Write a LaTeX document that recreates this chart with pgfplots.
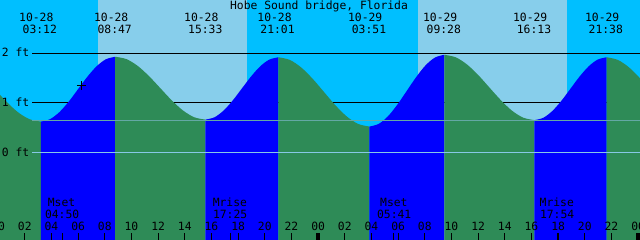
\documentclass[border=0pt]{standalone}
\usepackage{pgfplots}
\pgfplotsset{compat=1.18}
\usepackage{fontspec}
\setmainfont{DejaVu Sans Mono}
\setmonofont{DejaVu Sans Mono}
\definecolor{night}{RGB}{0,191,255}
\definecolor{day}{RGB}{135,206,235}
\definecolor{flood}{RGB}{0,0,255}
\definecolor{ebb}{RGB}{46,139,87}
\definecolor{datum}{RGB}{135,200,230}
\definecolor{markline}{RGB}{100,168,165}
\tikzset{lbl/.style={font=\fontsize{11.4}{12}\selectfont, inner sep=0pt, text=black}}
\begin{document}
\begin{tikzpicture}
\begin{axis}[
  at={(0,0)}, anchor=south west,
  width=640bp, height=240bp, scale only axis,
  xmin=0.14, xmax=48.14, ymin=-1.7717, ymax=3.0768,
  axis background/.style={fill=night},
  axis line style={draw=none},
  xtick={2,4,6,8,10,12,14,16,18,20,22,26,28,30,32,34,36,38,40,42,44,46,4.833,17.417,29.683,41.95},
  xticklabels={},
  extra x ticks={0,24,48},
  extra x tick labels={},
  extra x tick style={major tick style={black,line width=3.5bp}},
  ytick=\empty,
  xtick pos=left,
  tick align=inside,
  major tick length=7.3bp,
  major tick style={black,line width=1bp},
  axis on top,
]
% day bands
\addplot[fill=day, draw=none] coordinates {(7.49,-2) (7.49,4) (18.64,4) (18.64,-2)} -- cycle;
\addplot[fill=day, draw=none] coordinates {(31.49,-2) (31.49,4) (42.64,4) (42.64,-2)} -- cycle;
% depth lines (under water)
\addplot[black, line width=1bp] coordinates {(2.54,2) (49,2)};
\addplot[black, line width=1bp] coordinates {(2.54,1) (49,1)};
% tide curve: ebb (falling) segments in green, flood (rising) in blue
\addplot[fill=ebb, draw=none, smooth] coordinates {
(-1.05,1.505) (-0.20,1.260) (0.65,1.015) (1.50,0.807) (2.35,0.669) (3.20,0.620)}
 -- (axis cs:3.20,-2) -- (axis cs:-1.05,-2) -- cycle;
\addplot[fill=flood, draw=none, smooth] coordinates {
(3.20,0.620) (3.898,0.670) (4.596,0.812) (5.294,1.024) (5.992,1.275) (6.690,1.526) (7.387,1.738) (8.085,1.880) (8.783,1.930)}
 -- (axis cs:8.783,-2) -- (axis cs:3.20,-2) -- cycle;
\addplot[fill=ebb, draw=none, smooth] coordinates {
(8.783,1.930) (9.629,1.882) (10.475,1.744) (11.320,1.538) (12.166,1.295) (13.012,1.052) (13.858,0.846) (14.704,0.708) (15.550,0.660)}
 -- (axis cs:15.550,-2) -- (axis cs:8.783,-2) -- cycle;
\addplot[fill=flood, draw=none, smooth] coordinates {
(15.550,0.660) (16.233,0.708) (16.917,0.845) (17.600,1.049) (18.283,1.290) (18.967,1.531) (19.650,1.736) (20.333,1.872) (21.017,1.920)}
 -- (axis cs:21.017,-2) -- (axis cs:15.550,-2) -- cycle;
\addplot[fill=ebb, draw=none, smooth] coordinates {
(21.017,1.920) (21.871,1.867) (22.725,1.715) (23.579,1.488) (24.433,1.220) (25.288,0.952) (26.142,0.725) (26.996,0.573) (27.850,0.520)}
 -- (axis cs:27.850,-2) -- (axis cs:21.017,-2) -- cycle;
\addplot[fill=flood, draw=none, smooth] coordinates {
(27.850,0.520) (28.552,0.575) (29.254,0.732) (29.956,0.968) (30.658,1.245) (31.361,1.522) (32.063,1.758) (32.765,1.915) (33.467,1.970)}
 -- (axis cs:33.467,-2) -- (axis cs:27.850,-2) -- cycle;
\addplot[fill=ebb, draw=none, smooth] coordinates {
(33.467,1.970) (34.311,1.920) (35.154,1.777) (35.998,1.563) (36.842,1.310) (37.686,1.058) (38.529,0.843) (39.373,0.700) (40.217,0.650)}
 -- (axis cs:40.217,-2) -- (axis cs:33.467,-2) -- cycle;
\addplot[fill=flood, draw=none, smooth] coordinates {
(40.217,0.650) (40.894,0.698) (41.571,0.836) (42.248,1.042) (42.925,1.285) (43.602,1.528) (44.279,1.734) (44.956,1.872) (45.633,1.920)}
 -- (axis cs:45.633,-2) -- (axis cs:40.217,-2) -- cycle;
\addplot[fill=ebb, draw=none, smooth] coordinates {
(45.633,1.920) (46.466,1.868) (47.300,1.719) (48.133,1.497) (48.966,1.235)}
 -- (axis cs:48.966,-2) -- (axis cs:45.633,-2) -- cycle;
% datum and mark lines
\addplot[datum, line width=1bp] coordinates {(2.54,0) (49,0)};
\addplot[markline, line width=1bp] coordinates {(2.54,0.648) (49,0.648)};
% current time mark
\addplot[black, only marks, mark=+, mark size=4.5bp, mark options={solid, draw=black, line width=1.4bp}] coordinates {(6.24,1.345)};
% title
\node[lbl, anchor=base] at (axis cs:24.065,2.875) {Hobe Sound bridge, Florida};
% y labels
\node[lbl, anchor=base west] at (axis cs:0.2675,1.93) {2 ft};
\node[lbl, anchor=base west] at (axis cs:0.2675,0.921) {1 ft};
\node[lbl, anchor=base west] at (axis cs:0.2675,-0.075) {0 ft};
% tide event labels
\node[lbl, anchor=base] at (axis cs:2.862,2.638) {10-28};
\node[lbl, anchor=base] at (axis cs:3.125,2.390) {03:12};
\node[lbl, anchor=base] at (axis cs:8.480,2.638) {10-28};
\node[lbl, anchor=base] at (axis cs:8.743,2.390) {08:47};
\node[lbl, anchor=base] at (axis cs:15.238,2.638) {10-28};
\node[lbl, anchor=base] at (axis cs:15.538,2.390) {15:33};
\node[lbl, anchor=base] at (axis cs:20.728,2.638) {10-28};
\node[lbl, anchor=base] at (axis cs:20.953,2.390) {21:01};
\node[lbl, anchor=base] at (axis cs:27.530,2.638) {10-29};
\node[lbl, anchor=base] at (axis cs:27.815,2.390) {03:51};
\node[lbl, anchor=base] at (axis cs:33.155,2.638) {10-29};
\node[lbl, anchor=base] at (axis cs:33.425,2.390) {09:28};
\node[lbl, anchor=base] at (axis cs:39.905,2.638) {10-29};
\node[lbl, anchor=base] at (axis cs:40.190,2.390) {16:13};
\node[lbl, anchor=base] at (axis cs:45.305,2.638) {10-29};
\node[lbl, anchor=base] at (axis cs:45.575,2.390) {21:38};
% moon labels
\node[lbl, anchor=base] at (axis cs:4.753,-1.085) {Mset};
\node[lbl, anchor=base] at (axis cs:4.801,-1.341) {04:50};
\node[lbl, anchor=base] at (axis cs:17.379,-1.085) {Mrise};
\node[lbl, anchor=base] at (axis cs:17.401,-1.341) {17:25};
\node[lbl, anchor=base] at (axis cs:29.680,-1.085) {Mset};
\node[lbl, anchor=base] at (axis cs:29.705,-1.341) {05:41};
\node[lbl, anchor=base] at (axis cs:41.900,-1.085) {Mrise};
\node[lbl, anchor=base] at (axis cs:41.926,-1.341) {17:54};
% hour labels
\node[lbl, anchor=base] at (axis cs:0,-1.570) {00};
\node[lbl, anchor=base] at (axis cs:2,-1.570) {02};
\node[lbl, anchor=base] at (axis cs:4,-1.570) {04};
\node[lbl, anchor=base] at (axis cs:6,-1.570) {06};
\node[lbl, anchor=base] at (axis cs:8,-1.570) {08};
\node[lbl, anchor=base] at (axis cs:10,-1.570) {10};
\node[lbl, anchor=base] at (axis cs:12,-1.570) {12};
\node[lbl, anchor=base] at (axis cs:14,-1.570) {14};
\node[lbl, anchor=base] at (axis cs:16,-1.570) {16};
\node[lbl, anchor=base] at (axis cs:18,-1.570) {18};
\node[lbl, anchor=base] at (axis cs:20,-1.570) {20};
\node[lbl, anchor=base] at (axis cs:22,-1.570) {22};
\node[lbl, anchor=base] at (axis cs:24,-1.570) {00};
\node[lbl, anchor=base] at (axis cs:26,-1.570) {02};
\node[lbl, anchor=base] at (axis cs:28,-1.570) {04};
\node[lbl, anchor=base] at (axis cs:30,-1.570) {06};
\node[lbl, anchor=base] at (axis cs:32,-1.570) {08};
\node[lbl, anchor=base] at (axis cs:34,-1.570) {10};
\node[lbl, anchor=base] at (axis cs:36,-1.570) {12};
\node[lbl, anchor=base] at (axis cs:38,-1.570) {14};
\node[lbl, anchor=base] at (axis cs:40,-1.570) {16};
\node[lbl, anchor=base] at (axis cs:42,-1.570) {18};
\node[lbl, anchor=base] at (axis cs:44,-1.570) {20};
\node[lbl, anchor=base] at (axis cs:46,-1.570) {22};
\node[lbl, anchor=base] at (axis cs:48,-1.570) {00};
\end{axis}
\pgfresetboundingbox
\path[use as bounding box] (0,0) rectangle (640bp,240bp);
\end{tikzpicture}
\end{document}
